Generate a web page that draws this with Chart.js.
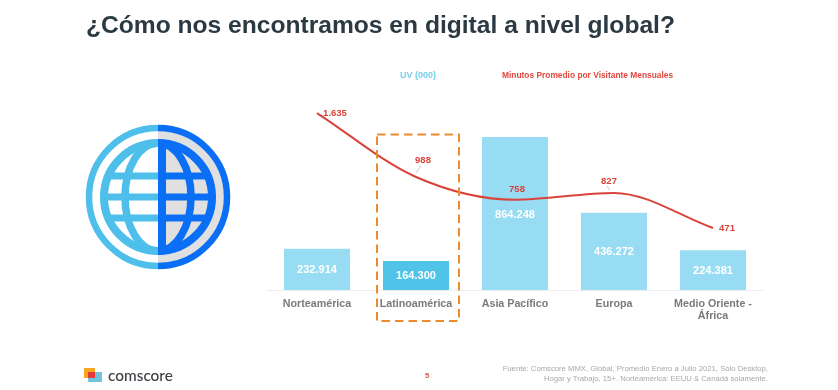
<!DOCTYPE html>
<html lang="es"><head><meta charset="utf-8">
<script src="https://cdn.jsdelivr.net/npm/chart.js@4"></script>
<style>
html,body{margin:0;padding:0;background:#fff;width:838px;height:390px;overflow:hidden}
body{position:relative;font-family:"Liberation Sans",Arial,sans-serif}
canvas{position:absolute;left:0;top:0;filter:blur(.35px)}
.t{position:absolute;white-space:nowrap;filter:blur(.35px)}
svg{position:absolute;filter:blur(.35px)}
</style></head><body>
<div class="t" id="title" style="left:86px;top:9px;font-size:24.6px;font-weight:700;color:#2b3a42;line-height:32px">¿Cómo nos encontramos en digital a nivel global?</div>
<div class="t" style="left:400px;top:70px;font-size:9px;font-weight:700;color:#74d0ea;line-height:10px">UV (000)</div>
<div class="t" style="left:502px;top:70px;font-size:8.4px;font-weight:700;color:#e0483e;line-height:10px">Minutos Promedio por Visitante Mensuales</div>
<svg style="left:78px;top:117px" width="160" height="160" viewBox="-80 -80 160 160">
<defs>
<clipPath id="cl"><rect x="-80" y="-80" width="80" height="160"/></clipPath>
<clipPath id="cr"><rect x="0" y="-80" width="80" height="160"/></clipPath>
<clipPath id="cc"><circle r="54"/></clipPath>
<g id="g">
<g fill="none" stroke="currentColor">
<circle r="69" stroke-width="6.5"/><circle r="54" stroke-width="8"/>
<ellipse rx="33" ry="54" stroke-width="7.5"/>
</g>
<g clip-path="url(#cc)" fill="currentColor">
<rect x="-60" y="-24.5" width="120" height="7"/><rect x="-60" y="-3.5" width="120" height="7"/><rect x="-60" y="17.5" width="120" height="7"/>
</g></g>
</defs>
<g clip-path="url(#cr)"><circle r="66" fill="#e0e0e0"/></g>
<g clip-path="url(#cl)" style="color:#4dbfea"><use href="#g"/></g>
<g clip-path="url(#cr)" style="color:#0a6ff5"><use href="#g"/><rect x="0" y="-55" width="8" height="110" fill="#0a6ff5"/></g>
</svg>
<svg style="left:80px;top:364px" width="26" height="22">
<rect x="4" y="4" width="11" height="10" fill="#f5a623"/><rect x="8" y="8" width="14" height="10" fill="#6fc3dc"/><rect x="8" y="8" width="7" height="6" fill="#e5393a"/>
</svg>
<div class="t" style="left:108px;top:366px;font-family:Lato,sans-serif;font-size:15.4px;font-weight:500;color:#3a3f44;line-height:18px">comscore</div>
<div class="t" style="left:425px;top:371px;font-size:7.5px;font-weight:700;color:#d9534a;line-height:9px">5</div>
<div class="t" style="right:70px;top:364px;font-size:7.7px;color:#a8a8a8;line-height:10px;text-align:right">Fuente: Comscore MMX, Global, Promedio Enero a Julio 2021, Sólo Desktop,<br>Hogar y Trabajo, 15+. Norteamérica: EEUU &amp; Canadá solamente.</div>
<canvas id="chart" width="838" height="390"></canvas>
<script>
const categories=[["Norteamérica"],["Latinoamérica"],["Asia Pacífico"],["Europa"],["Medio Oriente -","África"]];
const visitors=[232914,164300,864248,436272,224381];
const minutes=[1635,988,758,827,471];
const barColors=["#97dcf2","#4fc3e8","#97dcf2","#97dcf2","#97dcf2"];
const fmt=v=>String(v).replace(/\B(?=(\d{3})+$)/g,".");
const lineLabelOffsets=[[18,0],[7,-17],[2,-10],[-5,-12],[14,0]];
const leaderLines=[null,[[416,173],[421,166]],null,[[610,190],[607,186]],null];
const overlay={id:"overlay",afterDatasetsDraw(ch){
 const c=ch.ctx,x=ch.scales.x,y=ch.scales.y,y2=ch.scales.y2;
 c.save();c.textAlign="center";c.textBaseline="middle";
 c.font='700 11px "Liberation Sans"';c.fillStyle="#fff";
 visitors.forEach((v,i)=>c.fillText(fmt(v),x.getPixelForValue(i),(y.getPixelForValue(v)+y.getPixelForValue(0))/2+1));
 c.strokeStyle="#c8c8c8";c.lineWidth=1;
 leaderLines.forEach(l=>{if(l){c.beginPath();c.moveTo(l[0][0],l[0][1]);c.lineTo(l[1][0],l[1][1]);c.stroke();}});
 c.font='700 9.5px "Liberation Sans"';c.fillStyle="#d9443a";
 minutes.forEach((v,i)=>c.fillText(fmt(v),x.getPixelForValue(i)+lineLabelOffsets[i][0],y2.getPixelForValue(v)+lineLabelOffsets[i][1]));
 const cx=x.getPixelForValue(1)+2;
 c.strokeStyle="#ee8a2e";c.lineWidth=2;c.setLineDash([8.5,5]);
 c.strokeRect(cx-41,134.5,82,186.5);
 c.restore();
}};
new Chart(document.getElementById("chart"),{
 data:{labels:categories,datasets:[
  {type:"line",data:minutes,yAxisID:"y2",borderColor:"#d9443a",borderWidth:2,pointRadius:0,cubicInterpolationMode:"monotone",order:0},
  {type:"bar",data:visitors,yAxisID:"y",backgroundColor:barColors,categoryPercentage:1,barPercentage:.667,order:1}
 ]},
 options:{responsive:false,animation:false,
  layout:{padding:{left:267.5,right:75.5,top:100,bottom:0}},
  plugins:{legend:{display:false},tooltip:{enabled:false}},
  scales:{
   x:{grid:{display:false},border:{color:"#ececec",width:1},
      afterFit(s){s.height=100;},
      ticks:{maxRotation:0,autoSkip:false,padding:0,color:"#7a7a7a",font:{family:"Liberation Sans",size:10.7,weight:"700",lineHeight:1.1}}},
   y:{display:false,min:0,max:1073000},
   y2:{display:false,min:-156,max:1767}
  }},
 plugins:[overlay]
});
</script>
</body></html>
